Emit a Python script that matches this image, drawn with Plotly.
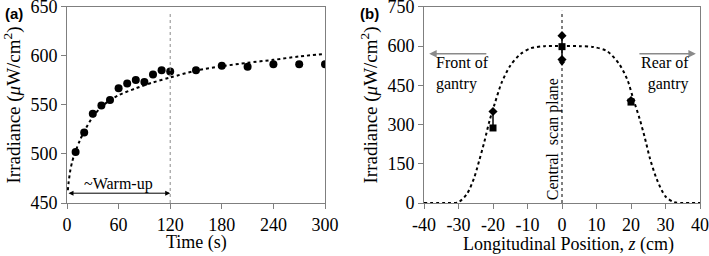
import plotly.graph_objects as go

# ---- Panel (a) data ----
time_s = [10, 20, 30, 40, 50, 60, 70, 80, 90, 100, 110, 120, 150, 180, 210, 240, 270, 300]
irr_a = [502, 522, 541, 549.5, 555, 567, 572, 575.5, 573.5, 581, 585.5, 584, 585.5, 590, 589, 591.5, 591.5, 591.5]
fit_t = [1, 2, 4, 6, 8, 10, 15, 20, 30, 40, 50, 60, 80, 100, 120, 150, 180, 210, 240, 270, 300]
fit_a = [463, 472, 484, 492, 498, 503, 514, 523, 538, 548, 555, 560, 567, 573, 578, 585, 589.5, 593, 596, 599.5, 602]
a_xticks = [0, 60, 120, 180, 240, 300]
a_yticks = [450, 500, 550, 600, 650]

# ---- Panel (b) data ----
z_pos = [-20, 0, 20]
sq_vals = [287, 598, 386]
err_plus = [63, 42, 6]
err_minus = [0, 63, 0]
dia_z = [-20, 0, 0, 20]
dia_vals = [350, 640, 549, 392]
tri_z = [0]
tri_vals = [535]
z_fit = [-40, -33, -30, -27.5, -25.5, -24, -22.5, -21, -19.5, -17.5, -15, -12, -9, -5, 0, 5, 9, 13,
         16.5, 19, 20.5, 22.5, 24, 25.5, 27.5, 30, 32.5, 35, 40]
v_fit = [0, 0, 3, 36, 95, 162, 235, 315, 380, 460, 525, 570, 592, 600, 600, 600, 597, 581,
         533, 470, 405, 322, 250, 170, 90, 25, 3, 0, 0]
b_xticks = [-40, -30, -20, -10, 0, 10, 20, 30, 40]
b_xticktext = ["-40", "-30", "-20", "-10", "0", "10", "20", "30", "40"]
b_yticks = [0, 150, 300, 450, 600, 750]

SERIF = "Liberation Serif"
FRAME = "#7f7f7f"

fig = go.Figure()

# Panel (a)
fig.add_trace(go.Scatter(x=fit_t, y=fit_a, mode="lines", line=dict(color="black", width=2, dash="dot", shape="spline", smoothing=0.8),
                         xaxis="x", yaxis="y", showlegend=False, hoverinfo="skip"))
fig.add_trace(go.Scatter(x=time_s, y=irr_a, mode="markers", marker=dict(color="black", size=8),
                         xaxis="x", yaxis="y", showlegend=False))

# Panel (b)
fig.add_trace(go.Scatter(x=z_fit, y=v_fit, mode="lines", line=dict(color="black", width=2, dash="dot", shape="spline", smoothing=0.8),
                         xaxis="x2", yaxis="y2", showlegend=False, hoverinfo="skip"))
fig.add_trace(go.Scatter(x=z_pos, y=sq_vals, mode="markers", marker=dict(color="black", size=7, symbol="square"),
                         error_y=dict(type="data", array=err_plus, arrayminus=err_minus, color="black", thickness=1.5, width=0),
                         xaxis="x2", yaxis="y2", showlegend=False))
fig.add_trace(go.Scatter(x=dia_z, y=dia_vals, mode="markers", marker=dict(color="black", size=7, symbol="diamond"),
                         xaxis="x2", yaxis="y2", showlegend=False))
fig.add_trace(go.Scatter(x=tri_z, y=tri_vals, mode="markers", marker=dict(color="black", size=6, symbol="triangle-down"),
                         xaxis="x2", yaxis="y2", showlegend=False))

axis_common = dict(showline=True, mirror=True, linecolor=FRAME, linewidth=1, ticks="outside", ticklen=5,
                   tickcolor=FRAME, showgrid=False, zeroline=False, ticklabeloverflow="allow",
                   tickfont=dict(family=SERIF, size=18, color="black"), automargin=False)

ytitle = dict(text="Irradiance (<i>μ</i>W/cm<sup>2</sup>)", font=dict(family=SERIF, size=19, color="black"), standoff=4)
ydom = [0.207, 0.973]
fig.update_layout(
    width=709, height=256,
    margin=dict(l=0, r=0, t=0, b=0),
    paper_bgcolor="white", plot_bgcolor="white",
    xaxis=dict(domain=[67/709, 325/709], range=[0, 300], tickvals=a_xticks, anchor="y", **axis_common),
    yaxis=dict(domain=ydom, range=[450, 650], tickvals=a_yticks, anchor="x", title=ytitle, **axis_common),
    xaxis2=dict(domain=[424/709, 700/709], range=[-40, 40], tickvals=b_xticks, ticktext=b_xticktext, anchor="y2",
                **axis_common),
    yaxis2=dict(domain=ydom, range=[0, 750], tickvals=b_yticks, anchor="x2", title=ytitle, **axis_common),
    shapes=[
        dict(type="line", xref="x", yref="y", x0=120, x1=120, y0=450, y1=644, line=dict(color="#8a8a8a", width=1, dash="dot")),
        dict(type="line", xref="x2", yref="y2", x0=0, x1=0, y0=0, y1=735, line=dict(color="black", width=1, dash="dot")),
    ],
    annotations=[
        dict(text="<b>(a)</b>", xref="paper", yref="paper", x=3/709, y=1-13/256, xanchor="left", yanchor="middle",
             showarrow=False, font=dict(family="Liberation Sans", size=15, color="black")),
        dict(text="<b>(b)</b>", xref="paper", yref="paper", x=358/709, y=1-13/256, xanchor="left", yanchor="middle",
             showarrow=False, font=dict(family="Liberation Sans", size=15, color="black")),
        # x-axis titles
        dict(text="Time (s)", xref="paper", yref="paper", x=196/709, y=1-242/256, xanchor="center", yanchor="middle",
             showarrow=False, font=dict(family=SERIF, size=18, color="black")),
        dict(text="Longitudinal Position, <i>z</i> (cm)", xref="paper", yref="paper", x=568/709, y=1-244/256,
             xanchor="center", yanchor="middle", showarrow=False, font=dict(family=SERIF, size=18, color="black")),
        # warm-up arrow
        dict(xref="x", yref="y", x=120, y=460, ax=0, ay=460, axref="x", ayref="y", showarrow=True,
             arrowhead=2, startarrowhead=2, arrowside="end+start", arrowsize=1, arrowwidth=1, arrowcolor="black", text=""),
        dict(text="~Warm-up", xref="x", yref="y", x=60, y=469, showarrow=False,
             font=dict(family=SERIF, size=16, color="black")),
        # front / rear arrows
        dict(xref="x2", yref="y2", x=-38.5, y=571, ax=-21.5, ay=571, axref="x2", ayref="y2", showarrow=True,
             arrowhead=2, arrowsize=1, arrowwidth=1.5, arrowcolor="#8a8a8a", text=""),
        dict(xref="x2", yref="y2", x=38.8, y=571, ax=22, ay=571, axref="x2", ayref="y2", showarrow=True,
             arrowhead=2, arrowsize=1, arrowwidth=1.5, arrowcolor="#8a8a8a", text=""),
        dict(text="Front of<br>gantry", xref="x2", yref="y2", x=-37, y=494, xanchor="left", yanchor="middle", align="left",
             showarrow=False, font=dict(family=SERIF, size=16, color="black")),
        dict(text="Rear of<br>gantry", xref="x2", yref="y2", x=37.3, y=494, xanchor="right", yanchor="middle", align="right",
             showarrow=False, font=dict(family=SERIF, size=16, color="black")),
        dict(text="Central  scan plane", xref="x2", yref="y2", x=-2.6, y=244, textangle=-90, xanchor="center", yanchor="middle",
             showarrow=False, font=dict(family=SERIF, size=16, color="black")),
    ],
)

fig.write_html("out.html", config={"displayModeBar": False},
               post_script="document.body.style.margin='0';document.body.style.padding='0';")
